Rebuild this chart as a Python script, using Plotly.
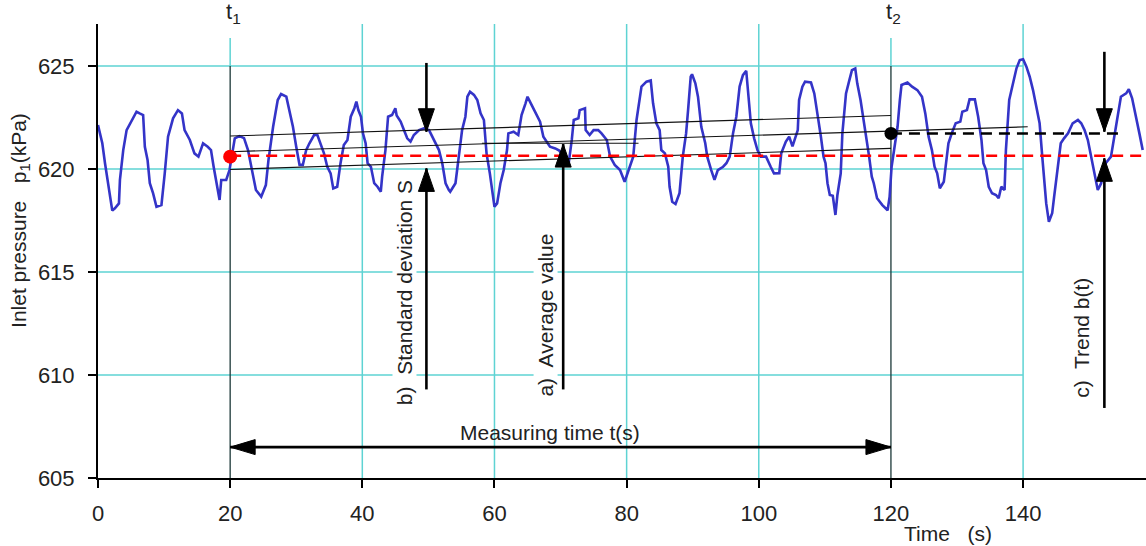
import plotly.graph_objects as go

# ---------------- data ----------------
time_s = [0.0, 0.65, 1.06, 1.46, 1.81, 2.16, 2.56, 3.17, 3.32, 3.82, 4.33, 5.08, 5.83, 6.3, 6.83,
          7.09, 7.5, 7.84, 8.34, 8.85, 9.6, 10.1, 10.6, 11.36, 12.1, 12.7, 13.1, 13.9, 14.6, 15.2,
          15.9, 16.6, 17.1, 17.5, 17.9, 18.4, 18.65, 19.4, 19.9, 20.3, 20.7, 21.4, 22.1, 22.7, 23.4,
          23.9, 24.7, 25.4, 25.8, 26.5, 27.2, 27.7, 28.5, 29.0, 29.5, 30.0, 30.5, 31.0, 31.5, 32.0,
          32.7, 33.2, 33.7, 34.2, 34.7, 35.2, 35.6, 36.2, 36.7, 37.2, 37.75, 38.25, 38.8, 39.1, 39.4,
          39.8, 40.1, 40.5, 40.8, 41.3, 41.8, 42.3, 42.8, 43.0, 43.5, 43.9, 44.5, 45.0, 45.2, 45.8,
          46.3, 46.8, 47.3, 47.8, 48.6, 49.3, 50.1, 50.6, 51.1, 51.6, 52.1, 52.6, 53.1, 53.3, 54.1,
          54.6, 55.1, 55.6, 55.9, 56.3, 56.9, 57.4, 57.9, 58.4, 58.8, 59.3, 59.6, 60.0, 60.4, 60.9,
          61.4, 61.9, 62.1, 62.9, 63.6, 64.1, 64.7, 65.0, 65.5, 66.2, 66.9, 67.4, 67.9, 68.4, 69.2,
          69.8, 70.4, 71.2, 71.7, 72.0, 72.7, 72.9, 73.7, 73.8, 74.4, 75.0, 75.7, 76.2, 77.0, 77.5,
          78.2, 79.0, 79.7, 80.5, 81.0, 81.5, 82.0, 82.25, 83.0, 83.65, 84.0, 84.5, 85.0, 85.25, 85.8,
          86.3, 86.5, 86.9, 87.4, 88.0, 88.5, 89.0, 89.3, 89.7, 89.9, 90.4, 90.8, 91.3, 91.9, 92.2,
          92.8, 93.3, 93.8, 94.6, 95.1, 95.6, 96.1, 96.6, 97.1, 97.6, 98.1, 98.45, 98.8, 99.3, 99.8,
          100.3, 101.1, 101.8, 102.3, 103.1, 103.4, 104.1, 104.6, 105.1, 105.9, 106.1, 106.6, 107.0,
          107.9, 108.4, 108.9, 109.4, 109.8, 110.1, 110.4, 110.75, 111.2, 111.6, 111.9, 112.4, 112.65,
          113.2, 113.7, 114.1, 114.6, 114.9, 115.4, 115.8, 116.3, 116.7, 117.1, 117.4, 117.9, 118.7,
          119.5, 119.8, 120.1, 120.5, 121.0, 121.35, 121.6, 122.5, 123.2, 124.0, 124.7, 125.2, 125.7,
          126.2, 126.6, 127.0, 127.4, 128.0, 128.35, 128.7, 129.2, 129.8, 130.5, 130.8, 131.5, 131.9,
          132.7, 133.2, 133.7, 134.0, 134.4, 134.8, 135.3, 135.9, 136.3, 136.7, 137.2, 137.4, 137.9,
          138.5, 139.0, 139.5, 140.0, 140.5, 141.0, 141.5, 142.0, 142.5, 142.9, 143.2, 143.5, 143.9,
          144.4, 144.7, 145.2, 145.7, 146.2, 146.8, 147.5, 148.3, 148.8, 149.3, 149.8, 150.3, 150.8,
          151.3, 151.8, 152.5, 153.3, 153.8, 154.3, 154.8, 155.6, 156.0, 156.5, 157.0, 157.6, 158.1]
pressure_kpa = [622.14, 621.25, 620.28, 619.47, 618.82, 617.98, 618.09, 618.33, 619.47, 620.92, 621.89,
                622.30, 622.78, 622.7, 622.62, 621.08, 620.44, 619.31, 618.82, 618.17, 618.25, 619.79,
                621.57, 622.46, 622.86, 622.70, 621.89, 621.41, 620.76, 620.60, 621.25, 621.08, 620.92,
                620.11, 619.47, 618.50, 619.47, 619.47, 619.95, 620.76, 621.49, 621.6, 621.5, 620.92,
                619.79, 618.98, 618.66, 619.22, 620.44, 622.05, 623.35, 623.64, 623.51, 622.78, 622.05,
                621.08, 620.2, 620.2, 620.92, 621.25, 621.65, 621.65, 621.25, 620.76, 620.11, 619.79,
                619.06, 619.14, 620.28, 621.17, 621.41, 622.54, 622.95, 623.27, 622.86, 622.54, 621.73,
                621.25, 620.28, 620.11, 619.31, 619.14, 618.9, 619.63, 620.92, 622.54, 622.62, 622.95,
                622.6, 622.30, 621.89, 621.49, 621.33, 621.65, 621.89, 621.97, 621.89, 621.57, 621.25,
                620.92, 620.28, 619.31, 618.98, 618.9, 619.31, 620.6, 621.89, 622.54, 623.51, 623.75,
                623.6, 623.35, 622.70, 622.38, 620.76, 619.79, 618.98, 618.17, 618.33, 619.31, 619.95,
                620.92, 621.73, 621.81, 621.65, 622.62, 623.19, 623.51, 623.19, 622.78, 622.30, 621.57,
                621.33, 621.08, 621.0, 620.9, 620.6, 620.2, 621.41, 622.38, 622.46, 622.86, 622.95,
                621.89, 621.65, 621.89, 621.89, 621.73, 621.41, 620.6, 620.2, 619.95, 619.38, 620.11,
                620.6, 622.38, 623.35, 624.0, 624.24, 624.3, 623.19, 622.22, 621.89, 620.92, 620.76,
                620.11, 619.14, 618.41, 618.3, 618.82, 620.6, 621.73, 622.86, 624.48, 624.6, 624.16,
                623.51, 622.05, 621.25, 620.6, 619.95, 619.47, 619.95, 620.11, 620.28, 620.6, 621.73,
                622.54, 624.0, 624.56, 624.77, 623.67, 622.22, 621.49, 620.92, 620.6, 620.6, 620.11,
                619.79, 619.8, 620.76, 621.33, 621.57, 621.1, 621.89, 623.35, 624.0, 624.24, 624.2,
                623.67, 622.70, 621.57, 620.6, 620.28, 619.31, 618.74, 618.7, 617.77, 618.74, 619.79,
                621.73, 623.67, 624.3, 624.8, 624.88, 624.16, 623.35, 622.54, 621.57, 620.6, 619.63,
                619.31, 618.58, 618.25, 618.0, 618.66, 620.11, 621.08, 622.05, 623.35, 624.08, 624.2,
                624.0, 623.83, 623.51, 622.70, 621.57, 620.92, 620.11, 619.79, 619.06, 619.38, 620.44,
                621.25, 621.73, 622.22, 622.30, 622.78, 622.86, 623.38, 623.38, 622.54, 621.41, 620.28,
                619.95, 619.14, 618.82, 618.74, 618.58, 619.14, 618.98, 620.92, 623.35, 624.16, 624.89,
                625.29, 625.33, 624.97, 624.48, 623.83, 623.02, 622.22, 620.6, 619.31, 618.33, 617.44,
                617.85, 618.66, 619.95, 621.25, 621.49, 621.73, 622.22, 622.38, 622.22, 621.89, 621.41,
                620.6, 619.79, 618.98, 619.3, 620.28, 620.6, 621.57, 622.54, 623.51, 623.67, 623.87,
                623.43, 622.70, 621.73, 620.92]

x_ticks = [0, 20, 40, 60, 80, 100, 120, 140]
y_ticks = [605, 610, 615, 620, 625]
grid_x = [40, 60, 80, 100, 140]
grid_y = [610, 615, 620, 625]

t1, t2 = 20, 120
mean_level = 620.65          # red dashed line (average at t1)
t1_value = 620.6             # red dot
t2_value = 621.73            # black dot / black dashed line
t2_dash_end = 154.5
mean_dash_end = 158.6

# trend band lines: (t_start, t_end, p_start, p_end)
band_upper = (20, 120, 621.6, 622.6)
band_mid = (20, 140.7, 620.84, 622.05)
band_lower = (20, 120, 619.98, 621.0)
avg_segment = (58.1, 81.8, 621.25)

# arrows: (t, tail value, tip value)
arrows_vertical = [(49.7, 625.15, 621.81), (49.7, 609.3, 620.03),
                   (70.4, 609.3, 621.21),
                   (152.3, 625.69, 621.81), (152.3, 608.4, 620.52)]
measure_level = 606.5

labels_rot = [("b)  Standard deviation S", 46.4, 614.0),
              ("a)  Average value", 67.7, 612.9),
              ("c)  Trend b(t)", 148.9, 611.8)]

FONT = "Arial, Liberation Sans, sans-serif"
TXT = "#222222"
CYAN = "#5ED3D3"
BLUE = "#3434C8"

fig = go.Figure()

fig.add_trace(go.Scatter(x=time_s, y=pressure_kpa, mode="lines",
                         line=dict(color=BLUE, width=2.6), hoverinfo="skip"))
for (ta, tb, pa, pb) in [band_upper, band_mid, band_lower]:
    fig.add_trace(go.Scatter(x=[ta, tb], y=[pa, pb], mode="lines",
                             line=dict(color="#111111", width=1.1), hoverinfo="skip"))
fig.add_trace(go.Scatter(x=[avg_segment[0], avg_segment[1]], y=[avg_segment[2]] * 2, mode="lines",
                         line=dict(color="#111111", width=1.1), hoverinfo="skip"))
fig.add_trace(go.Scatter(x=[t1, mean_dash_end], y=[mean_level, mean_level], mode="lines",
                         line=dict(color="#FF0000", width=2.5, dash="11px,7px"), hoverinfo="skip"))
fig.add_trace(go.Scatter(x=[t2, t2_dash_end], y=[t2_value, t2_value], mode="lines",
                         line=dict(color="#000000", width=2.5, dash="11px,7px"), hoverinfo="skip"))
fig.add_trace(go.Scatter(x=[t1], y=[t1_value], mode="markers",
                         marker=dict(color="#FF0000", size=14), hoverinfo="skip"))
fig.add_trace(go.Scatter(x=[t2], y=[t2_value], mode="markers",
                         marker=dict(color="#000000", size=13), hoverinfo="skip"))

shapes = []
y_top = 627.04
for gy in grid_y:
    shapes.append(dict(type="line", x0=0, x1=140, y0=gy, y1=gy, layer="below",
                       line=dict(color=CYAN, width=1.5)))
for gx in grid_x:
    shapes.append(dict(type="line", x0=gx, x1=gx, y0=605, y1=y_top, layer="below",
                       line=dict(color=CYAN, width=1.5)))
for tm in (t1, t2):
    shapes.append(dict(type="line", x0=tm, x1=tm, y0=625, y1=626.36, layer="below",
                       line=dict(color=CYAN, width=1.5)))
    shapes.append(dict(type="line", x0=tm, x1=tm, y0=605, y1=625, layer="below",
                       line=dict(color="#1C3838", width=1.3)))

# vertical arrows
for (ta, tail, tip) in arrows_vertical:
    shapes.append(dict(type="line", x0=ta, x1=ta, y0=tail, y1=tip, layer="above",
                       line=dict(color="black", width=2.6)))
    if tip < tail:
        path = "M0,0 L-8,23 L8,23 Z"
    else:
        path = "M0,0 L-8,-23 L8,-23 Z"
    shapes.append(dict(type="path", xsizemode="pixel", ysizemode="pixel",
                       xanchor=ta, yanchor=tip, path=path, layer="above",
                       fillcolor="black", line=dict(color="black", width=1)))
# measuring time double arrow
shapes.append(dict(type="line", x0=t1, x1=t2, y0=measure_level, y1=measure_level, layer="above",
                   line=dict(color="black", width=2.6)))
shapes.append(dict(type="path", xsizemode="pixel", ysizemode="pixel", xanchor=t1,
                   yanchor=measure_level, path="M0,0 L25,7.5 L25,-7.5 Z", layer="above",
                   fillcolor="black", line=dict(color="black", width=1)))
shapes.append(dict(type="path", xsizemode="pixel", ysizemode="pixel", xanchor=t2,
                   yanchor=measure_level, path="M0,0 L-25,7.5 L-25,-7.5 Z", layer="above",
                   fillcolor="black", line=dict(color="black", width=1)))

annotations = []
for (txt, tx, ty) in labels_rot:
    annotations.append(dict(x=tx, y=ty, text=txt, textangle=-90, showarrow=False,
                            bgcolor="white", font=dict(size=21, color=TXT, family=FONT),
                            xanchor="center", yanchor="middle", borderpad=0))
annotations.append(dict(x=68.4, y=607.23, text="Measuring time t(s)", showarrow=False,
                        font=dict(size=21, color=TXT, family=FONT)))
annotations.append(dict(x=t1, y=1, yref="paper", text="t<sub>1</sub>", showarrow=False,
                        xanchor="center", yanchor="bottom", xshift=3, yshift=-5,
                        font=dict(size=22, color=TXT, family=FONT)))
annotations.append(dict(x=t2, y=1, yref="paper", text="t<sub>2</sub>", showarrow=False,
                        xanchor="center", yanchor="bottom", xshift=3, yshift=-5,
                        font=dict(size=22, color=TXT, family=FONT)))
annotations.append(dict(x=128.6, y=0, yref="paper", text="Time   (s)", showarrow=False,
                        yanchor="middle", yshift=-55,
                        font=dict(size=21, color=TXT, family=FONT)))
annotations.append(dict(x=0, xref="paper", y=617.48, text="Inlet pressure   p<sub>1</sub>(kPa)",
                        showarrow=False, textangle=-90, xanchor="center", yanchor="middle",
                        xshift=-78, font=dict(size=21, color=TXT, family=FONT)))

fig.update_layout(
    width=1146, height=546,
    margin=dict(l=98, r=0, t=24, b=68),
    paper_bgcolor="white", plot_bgcolor="white",
    showlegend=False,
    shapes=shapes, annotations=annotations,
    font=dict(family=FONT, size=21, color=TXT),
    xaxis=dict(range=[0, 158.6], tickvals=x_ticks, showgrid=False, zeroline=False,
               showline=True, linecolor="black", linewidth=2, ticks="outside", ticklen=8,
               tickwidth=2, tickcolor="black", ticklabelstandoff=7,
               tickfont=dict(size=22, color=TXT, family=FONT)),
    yaxis=dict(range=[605, y_top], tickvals=y_ticks, showgrid=False, zeroline=False,
               showline=True, linecolor="black", linewidth=2, ticks="outside", ticklen=8,
               tickwidth=2, tickcolor="black", ticklabelstandoff=9,
               tickfont=dict(size=22, color=TXT, family=FONT)),
)

fig.write_html("out.html")
